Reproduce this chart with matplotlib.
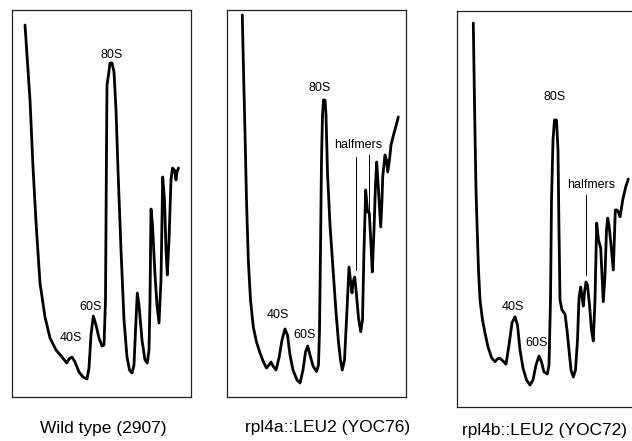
import numpy as np
import matplotlib
matplotlib.use("Agg")
import matplotlib.pyplot as plt

plt.rcParams['font.family'] = ['Liberation Sans', 'DejaVu Sans']

# sucrose gradient profiles (position along gradient, A254 in arbitrary units)
wt_pos = [13.3, 16.3, 18.3, 21.3, 24.3, 28.3, 33.3, 38.3, 44.3, 50.3, 55.0, 57.3, 60.3, 63.3, 67.3,
          71.3, 75.3, 77.3, 79.3, 81.6, 84.3, 87.3, 90.3, 92.3, 93.8, 94.8, 95.3, 96.8, 98.3, 100.3,
          102.3, 104.3, 106.3, 109.3, 112.3, 115.3, 117.8, 120.3, 122.3, 124.3, 125.6, 127.3, 130.3,
          133.3, 135.6, 137.3, 138.3, 139.3, 140.8, 143.3, 145.3, 147.3, 149.3, 151.0, 152.8, 154.3,
          155.6, 157.3, 159.3, 160.8, 162.8, 164.3, 165.3, 166.8]
wt_abs = [371.7, 326.7, 296.7, 229.7, 174.7, 113.7, 79.7, 58.7, 46.7, 39.7, 33.7, 37.7, 39.7, 34.7, 24.7,
          19.7, 17.7, 28.7, 61.7, 80.7, 71.7, 58.7, 50.7, 51.7, 96.7, 246.7, 311.7, 321.7, 333.7, 333.7,
          324.7, 286.7, 226.7, 146.7, 76.7, 39.7, 26.7, 23.7, 31.7, 76.7, 103.7, 91.7, 56.7,
          36.7, 33.7, 46.7, 96.7, 187.7, 171.7, 121.7, 91.7, 73.7, 116.7, 219.7, 196.7, 146.7,
          121.7, 156.7, 216.7, 228.7, 226.7, 216.7, 224.7, 228.7]

a_pos = [15.0, 16.2, 17.7, 19.2, 21.0, 23.2, 26.0, 29.2, 32.7, 36.2, 39.2, 41.7, 43.7, 45.7, 48.7,
         51.7, 54.7, 57.7, 60.2, 62.7, 65.7, 69.7, 72.7, 75.7, 78.2, 80.4, 82.7, 85.7, 89.2, 91.2,
         92.2, 93.2, 94.2, 95.2, 96.2, 97.7, 98.7, 100.2, 102.7, 106.0, 108.7, 111.0, 113.2, 115.0,
         117.2, 119.2, 121.7, 123.7, 124.7, 125.7, 127.4, 129.2, 131.2, 133.4, 135.2, 136.7, 138.4,
         139.7, 140.4, 142.0, 143.7, 145.0, 146.7, 148.2, 149.4, 151.2, 153.4, 154.7, 155.4, 157.7,
         159.2, 160.4, 162.2, 163.7, 166.2, 168.7, 171.0]
a_abs = [382.3, 327.3, 264.3, 197.3, 137.3, 97.3, 70.3, 55.3, 44.3, 35.3, 29.3, 32.3, 35.3, 31.3, 27.3,
         39.3, 57.3, 68.3, 62.3, 42.3, 27.3, 17.3, 14.3, 27.3, 45.3, 51.3, 42.3, 31.3, 25.8, 32.3,
         67.3, 147.3, 237.3, 282.3, 297.3, 297.3, 282.3, 224.3, 172.3, 124.3, 85.3, 57.3, 37.3, 27.3,
         37.3, 77.3, 130.3, 112.3, 104.3, 115.3, 120.3, 102.3, 79.3, 65.6, 77.3, 147.3, 207.3,
         192.3, 185.3, 184.3, 152.3, 125.3, 167.3, 212.3, 235.3, 207.3, 170.3, 197.3, 220.3, 242.3,
         237.3, 225.3, 237.3, 252.3, 262.3, 271.3, 280.3]

b_pos = [16.6, 17.3, 18.3, 19.3, 20.6, 21.8, 23.3, 25.8, 28.3, 31.3, 35.0, 38.3, 41.3, 43.3, 46.3,
         49.3, 52.3, 55.3, 58.3, 60.8, 63.3, 66.3, 69.8, 73.3, 76.3, 79.3, 82.3, 84.8, 87.3, 90.6,
         92.3, 93.8, 94.8, 96.3, 97.8, 99.8, 101.3, 102.3, 103.3, 105.3, 108.3, 110.3, 111.8, 114.3,
         116.6, 118.8, 120.8, 122.3, 124.0, 125.3, 126.6, 127.8, 129.3, 130.8, 132.8, 134.8, 136.6,
         138.3, 140.0, 141.8, 144.0, 145.3, 146.6, 148.3, 149.8, 151.0, 152.3, 154.3, 156.6, 157.6,
         158.6, 160.3, 161.6, 163.3, 164.8, 166.0, 169.0, 171.6]
b_abs = [384.3, 337.3, 274.3, 217.3, 174.3, 137.3, 107.3, 87.3, 74.3, 60.3, 49.3, 45.6, 48.8, 49.0, 46.3,
         43.0, 62.3, 84.3, 90.6, 82.3, 57.3, 39.3, 27.3, 22.3, 27.3, 42.3, 51.3, 45.3, 35.3, 33.3,
         42.3, 107.3, 207.3, 267.3, 287.3, 287.3, 257.3, 177.3, 107.3, 97.3, 93.3, 77.3, 62.3, 37.3,
         30.3, 37.3, 67.3, 109.3, 120.3, 110.3, 101.3, 115.3, 125.3, 122.3, 102.3, 77.3, 66.3,
         107.3, 184.3, 167.3, 159.3, 132.3, 105.6, 132.3, 177.3, 189.3, 182.3, 162.3, 137.3, 167.3,
         197.3, 197.3, 195.3, 190.6, 199.3, 207.3, 220.3, 228.3]

titles = ["Wild type (2907)", "rpl4a::LEU2 (YOC76)", "rpl4b::LEU2 (YOC72)"]

fig = plt.figure(figsize=(6.32, 4.41), dpi=100)
W, H = 632.0, 441.0

# panel boxes in pixels: left, bottom, width, height
boxes = [(11.7, 396.7, 179.0, 386.7), (227.3, 397.3, 178.4, 387.3), (456.7, 407.3, 179.0, 396.3)]
profiles = [(wt_pos, wt_abs), (a_pos, a_abs), (b_pos, b_abs)]
axes = []
for (l, b, w, h), (xp, yp) in zip(boxes, profiles):
    ax = fig.add_axes([l / W, (H - b) / H, w / W, h / H])
    ax.plot(xp, yp, color="black", lw=2.0, solid_joinstyle="round", solid_capstyle="round")
    ax.set_xlim(0, w)
    ax.set_ylim(0, h)
    ax.set_xticks([])
    ax.set_yticks([])
    for s in ax.spines.values():
        s.set_linewidth(0.9)
        s.set_color("#222222")
    axes.append(ax)

fs = 9
ax1, ax2, ax3 = axes
ax1.text(100, 341.7, "80S", fontsize=fs, ha="center", va="center")
ax1.text(79, 90, "60S", fontsize=fs, ha="center", va="center")
ax1.text(59, 58.4, "40S", fontsize=fs, ha="center", va="center")

ax2.text(92.7, 309.3, "80S", fontsize=fs, ha="center", va="center")
ax2.text(51, 82.3, "40S", fontsize=fs, ha="center", va="center")
ax2.text(77.7, 62.3, "60S", fontsize=fs, ha="center", va="center")
ax2.text(131, 252.3, "halfmers", fontsize=fs, ha="center", va="center")
ax2.plot([128.4, 128.4], [240.6, 127.3], color="black", lw=0.7)
ax2.plot([141.7, 141.7], [242.3, 185.6], color="black", lw=0.7)

ax3.text(98.3, 310.6, "80S", fontsize=fs, ha="center", va="center")
ax3.text(56.6, 100.6, "40S", fontsize=fs, ha="center", va="center")
ax3.text(80, 64, "60S", fontsize=fs, ha="center", va="center")
ax3.text(134, 222.3, "halfmers", fontsize=fs, ha="center", va="center")
ax3.plot([129.3, 129.3], [212.3, 132.3], color="black", lw=0.7)

label_xy = [(103, 428.5), (328, 427.5), (545, 431)]
for t, (x, y) in zip(titles, label_xy):
    fig.text(x / W, 1 - y / H, t, fontsize=12.5, ha="center", va="center")

fig.savefig("out.png", dpi=100)
